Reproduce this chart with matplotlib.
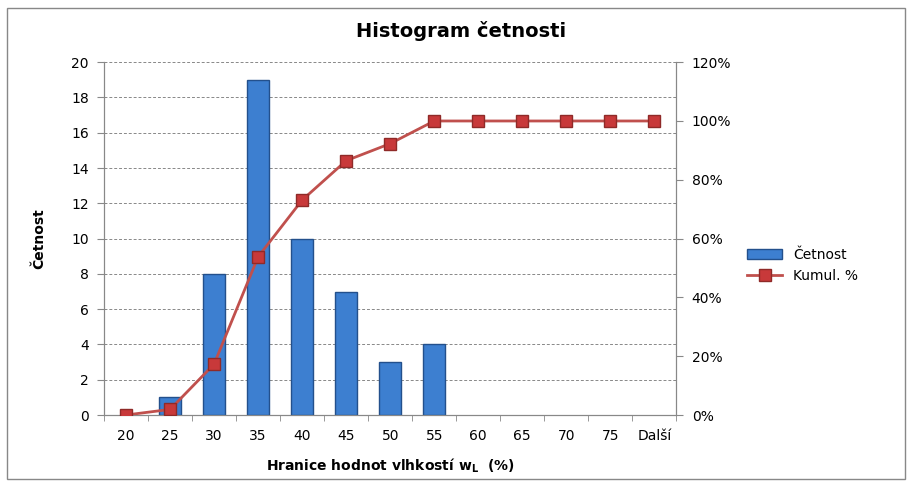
import numpy as np
import matplotlib.pyplot as plt
from matplotlib.patches import Rectangle, Patch
from matplotlib.ticker import FuncFormatter

# data
categories = ["20", "25", "30", "35", "40", "45", "50", "55", "60", "65", "70", "75", "Další"]
counts = [0, 1, 8, 19, 10, 7, 3, 4, 0, 0, 0, 0, 0]
cumul_pct = [0.0, 1.9, 17.3, 53.8, 73.1, 86.5, 92.3, 100, 100, 100, 100, 100, 100]

plt.rcParams['font.family'] = ['DejaVu Sans']

fig = plt.figure(figsize=(9.07, 4.82), dpi=100)
ax = fig.add_axes([0.1147, 0.139, 0.631, 0.732])
ax2 = ax.twinx()

x = np.arange(len(categories))
bar_color, bar_edge = "#3d7fd0", "#23508c"
bars = ax.bar(x, counts, width=0.5, color=bar_color, edgecolor=bar_edge,
              linewidth=1.0, zorder=3)
# empty bins get no outline
for b, c in zip(bars, counts):
    if c == 0:
        b.set_linewidth(0)
line, = ax2.plot(x, cumul_pct, color="#c0504d", linewidth=2,
                 marker="s", markersize=8.5, markerfacecolor="#c8393a",
                 markeredgecolor="#8f2a28", zorder=4, label="Kumul. %")

ax.set_xlim(-0.5, len(categories) - 0.5)
ax.set_ylim(0, 20)
ax.set_yticks(np.arange(0, 21, 2))
ax2.set_ylim(0, 120)
ax2.set_yticks(np.arange(0, 121, 20))
ax2.yaxis.set_major_formatter(FuncFormatter(lambda v, p: f"{int(v)}%"))

ax.set_xticks(x)
ax.set_xticklabels(categories)
ax.set_xticks(np.arange(-0.5, len(categories), 1), minor=True)
ax.tick_params(axis="x", which="major", length=0, pad=10, labelsize=10)
ax.tick_params(axis="x", which="minor", length=4, color="#888888")
ax.tick_params(axis="y", length=5, color="#888888", labelsize=10, pad=6)
ax2.tick_params(axis="y", length=5, color="#888888", labelsize=10, pad=6)

ax.yaxis.grid(True, linestyle=(0, (3, 2)), color="#888888", linewidth=0.7, zorder=0)
ax.set_axisbelow(True)

for a in (ax, ax2):
    a.spines["top"].set_visible(False)
    for s in ("left", "right", "bottom"):
        a.spines[s].set_color("#888888")
ax2.set_zorder(ax.get_zorder() + 1)
ax2.patch.set_visible(False)

ax.set_ylabel("Četnost", fontsize=10, fontweight="bold", labelpad=18)
ax.set_xlabel("Hranice hodnot vlhkostí w$_\\mathbf{L}$  (%)", fontsize=10,
              fontweight="bold", labelpad=10)
fig.text(0.508, 0.935, "Histogram četnosti", ha="center", va="center",
         fontsize=14, fontweight="bold")

bar_handle = Patch(facecolor=bar_color, edgecolor=bar_edge, label="Četnost")
fig.legend(handles=[bar_handle, line], loc="center left", bbox_to_anchor=(0.81, 0.45),
           frameon=False, fontsize=10, handlelength=2.5)

# outer chart border
fig.patches.append(Rectangle((0.008, 0.006), 0.99, 0.978, transform=fig.transFigure,
                             fill=False, edgecolor="#888888", linewidth=1))

fig.savefig("out.png", dpi=100)
